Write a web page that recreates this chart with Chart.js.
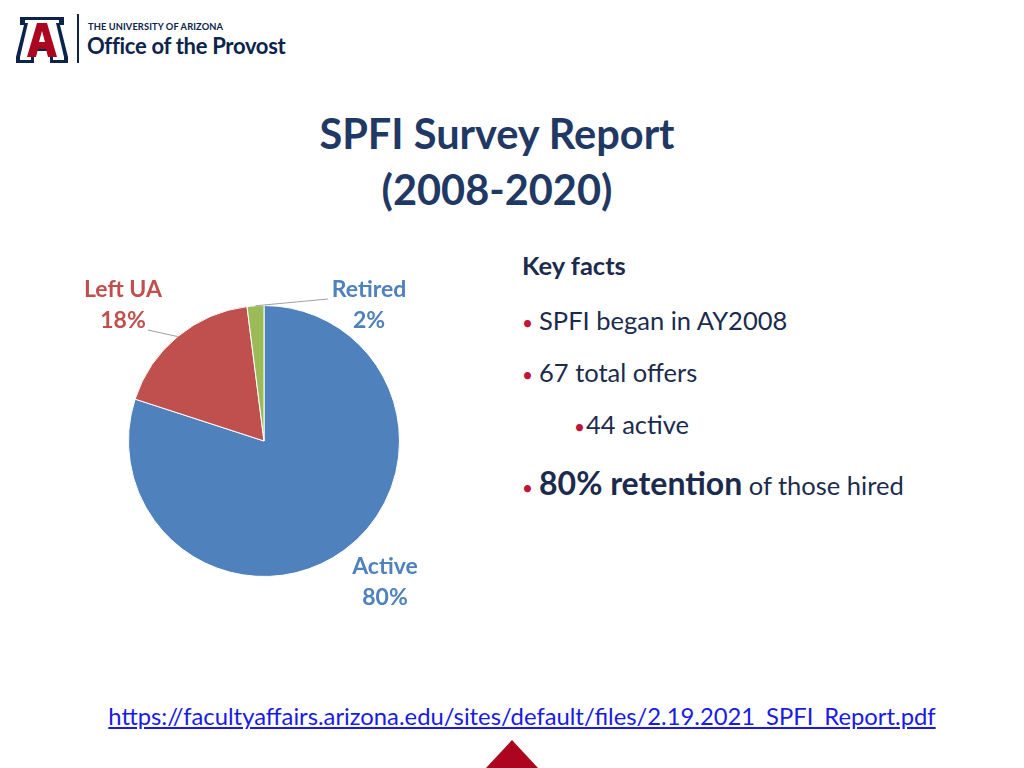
<!DOCTYPE html>
<html>
<head>
<meta charset="utf-8">
<script src="https://cdn.jsdelivr.net/npm/chart.js@4/dist/chart.umd.min.js"></script>
<style>
  body { margin: 0; width: 1024px; height: 768px; background: #fff; position: relative; overflow: hidden; font-family: Lato, "Open Sans", sans-serif; }
  .abs { position: absolute; }
  #logoLine { left: 77px; top: 14px; width: 2px; height: 49px; background: #0c234b; }
  #uni { left: 88px; top: 21px; font-size: 9.3px; font-weight: 700; color: #0c234b; letter-spacing: 0.1px; }
  #office { left: 87px; top: 32px; font-size: 22px; font-weight: 700; color: #0c234b; letter-spacing: -0.3px; }
  #title { left: 0; width: 994px; top: 105px; text-align: center; font-size: 41.5px; font-weight: 700; color: #1f3864; line-height: 56px; }
  #facts { left: 522px; top: 252px; color: #1c2b4d; }
  #facts .head { font-size: 25.5px; font-weight: 700; position: absolute; top: -2px; white-space: nowrap; }
  #facts .item { font-size: 25.5px; position: absolute; white-space: nowrap; }
  #facts .dot { color: #c0143c; font-size: 19px; margin-right: 6px; }
  #url { left: 0; width: 1044px; top: 702px; text-align: center; font-size: 23.8px; color: #1a1ae6; text-decoration: underline; }
  #tri { left: 486px; top: 740px; width: 0; height: 0; border-left: 26px solid transparent; border-right: 26px solid transparent; border-bottom: 28px solid #ab0520; }
  #chartBox { left: 60px; top: 260px; width: 400px; height: 360px; }
</style>
</head>
<body>
<svg class="abs" style="left:14px;top:15px" width="56" height="50" viewBox="0 0 56 50">
  <polygon points="6,2 50,2 50,10 46,10 54,42 54,48 36,48 36,42 34,36 22,36 20,42 20,48 2,48 2,42 10,10 6,10" fill="#0c234b"/>
  <polygon points="11,5 45,5 45,8 42,8 50,42 50,45 39,45 39,42 37,33 19,33 17,42 17,45 6,45 6,42 14,8 11,8" fill="#fff"/>
  <polygon points="23,8 33,8 43,42 34,42 32,34 24,34 22,42 13,42" fill="#ab0520"/>
  <polygon points="28,16 31,27 25,27" fill="#fff"/>
</svg>
<div id="logoLine" class="abs"></div>
<div id="uni" class="abs">THE UNIVERSITY OF ARIZONA</div>
<div id="office" class="abs">Office of the Provost</div>

<div id="title" class="abs">SPFI Survey Report<br>(2008-2020)</div>

<div id="chartBox" class="abs"><canvas id="chart" width="400" height="360"></canvas></div>

<div id="facts" class="abs">
  <div class="head">Key facts</div>
  <div class="item" style="top:53px"><span class="dot">•</span>SPFI began in AY2008</div>
  <div class="item" style="top:105px"><span class="dot">•</span>67 total offers</div>
  <div class="item" style="top:157px;left:52px"><span class="dot" style="margin-right:1px">•</span>44 active</div>
  <div class="item" style="top:211px"><span class="dot">•</span><b style="font-size:32px">80% retention</b> of those hired</div>
</div>

<div id="url" class="abs">https://facultyaffairs.arizona.edu/sites/default/files/2.19.2021_SPFI_Report.pdf</div>
<div id="tri" class="abs"></div>

<script>
const categories = ["Active", "Left UA", "Retired"];
const shares = [80, 18, 2];
const sliceColors = ["#4f81bd", "#c0504d", "#9bbb59"];
const labelColors = ["#4f81bd", "#c0504d", "#4f81bd"];

// label placement relative to pie center, and where leader lines start
const labelOffsets = [[121, 126], [-141, -151], [105, -151]];
const leaderStarts = [null, [-116, -111], [64, -142]];

const sliceLabels = {
  id: "sliceLabels",
  afterDatasetsDraw(chart) {
    const ctx = chart.ctx;
    const arcs = chart.getDatasetMeta(0).data;
    ctx.save();
    arcs.forEach((arc, i) => {
      const cx = arc.x, cy = arc.y;
      const mid = (arc.startAngle + arc.endAngle) / 2;
      const r = arc.outerRadius;
      if (leaderStarts[i]) {
        ctx.strokeStyle = "#a0a0a0";
        ctx.lineWidth = 1;
        ctx.beginPath();
        ctx.moveTo(cx + leaderStarts[i][0], cy + leaderStarts[i][1]);
        ctx.lineTo(cx + Math.cos(mid) * r, cy + Math.sin(mid) * r);
        ctx.stroke();
      }
      const lx = cx + labelOffsets[i][0], ly = cy + labelOffsets[i][1];
      ctx.fillStyle = labelColors[i];
      ctx.font = "bold 23px Lato";
      ctx.textAlign = "center";
      ctx.textBaseline = "middle";
      ctx.fillText(categories[i], lx, ly);
      ctx.fillText(shares[i] + "%", lx, ly + 31);
    });
    ctx.restore();
  }
};

new Chart(document.getElementById("chart"), {
  type: "pie",
  data: {
    labels: categories,
    datasets: [{
      data: shares,
      backgroundColor: sliceColors,
      borderColor: "#ffffff",
      borderWidth: 1
    }]
  },
  options: {
    responsive: false,
    animation: false,
    layout: { padding: { left: 68, right: 60, top: 45, bottom: 43 } },
    plugins: { legend: { display: false }, tooltip: { enabled: false } }
  },
  plugins: [sliceLabels]
});
</script>
</body>
</html>
